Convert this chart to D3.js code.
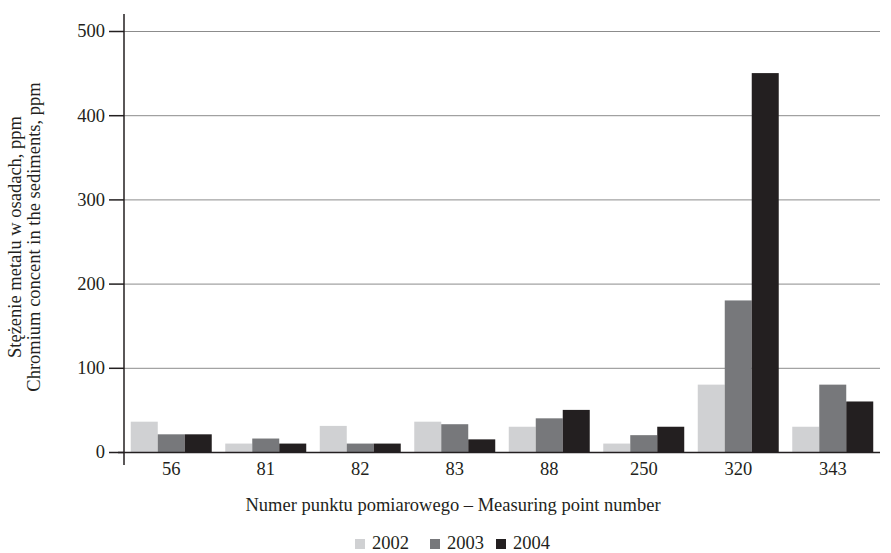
<!DOCTYPE html>
<html><head><meta charset="utf-8">
<script src="https://cdn.jsdelivr.net/npm/d3@7"></script>
<style>body{margin:0;background:#fff}svg{display:block}svg text{font-family:"Liberation Serif","Times New Roman",serif !important;fill:#231f20}</style>
</head><body>
<script>
const categories = ["56","81","82","83","88","250","320","343"];
const seriesNames = ["2002","2003","2004"];
const v2002 = [36,10,31,36,30,10,80,30];
const v2003 = [21,16,10,33,40,20,180,80];
const v2004 = [21,10,10,15,50,30,450,60];
const yTicks = [0,100,200,300,400,500];
const colors = ["#d0d1d3","#77787b","#231f20"];
const series = [v2002,v2003,v2004];

const W=891,H=553;
const FF='"Liberation Serif","Times New Roman",serif';
const svg=d3.select("body").append("svg").attr("width",W).attr("height",H);
const x0=124,x1=880,yBase=452,yTop=31;
const x=d3.scaleBand().domain(categories).range([x0,x1]).paddingInner(0.143).paddingOuter(0.0715);
const xs=d3.scaleBand().domain(seriesNames).range([0,x.bandwidth()]);
const y=d3.scaleLinear().domain([0,500]).range([yBase,yTop]);

// gridlines
svg.append("g").selectAll("line").data(yTicks.filter(t=>t>0)).join("line")
  .attr("x1",x0).attr("x2",x1).attr("y1",d=>y(d)+0.5).attr("y2",d=>y(d)+0.5)
  .attr("stroke","#8c8c8c").attr("stroke-width",1);

// bars
const g=svg.append("g");
categories.forEach((c,i)=>{
  seriesNames.forEach((s,j)=>{
    g.append("rect").attr("x",x(c)+xs(s)).attr("width",xs.bandwidth())
     .attr("y",y(series[j][i])).attr("height",yBase-y(series[j][i])).attr("fill",colors[j]);
  });
});

// y axis
const ya=svg.append("g").attr("transform",`translate(${x0},0)`)
  .call(d3.axisLeft(y).tickValues(yTicks).tickSize(15).tickPadding(4));
ya.attr("font-family",null).attr("font-size",null);
ya.select(".domain").remove();
ya.selectAll(".tick line").attr("stroke","#231f20").attr("stroke-width",1.5);
ya.selectAll(".tick text").style("font-family",FF).style("font-size","18.5px").attr("fill","#231f20");
svg.append("line").attr("x1",x0).attr("x2",x0).attr("y1",14).attr("y2",465).attr("stroke","#231f20").attr("stroke-width",1.5);

// x axis
const xa=svg.append("g").attr("transform",`translate(0,${yBase})`)
  .call(d3.axisBottom(x).tickSize(0).tickPadding(10));
xa.attr("font-family",null).attr("font-size",null);
xa.select(".domain").remove();
xa.selectAll(".tick text").style("font-family",FF).style("font-size","18.5px").attr("fill","#231f20");
svg.append("line").attr("x1",118).attr("x2",x1).attr("y1",yBase+0.5).attr("y2",yBase+0.5).attr("stroke","#231f20").attr("stroke-width",1.5);

// titles
svg.append("text").attr("x",453).attr("y",511).attr("text-anchor","middle").style("font-family",FF).style("font-size","18.5px")
  .text("Numer punktu pomiarowego – Measuring point number");
const yt=svg.append("text").attr("transform","translate(0,237) rotate(-90)").attr("text-anchor","middle").style("font-family",FF).style("font-size","18.5px");
yt.append("tspan").attr("x",0).attr("y",21).text("Stężenie metalu w osadach, ppm");
yt.append("tspan").attr("x",0).attr("y",40).text("Chromium concent in the sediments, ppm");

// legend
const lx=[355,430,496];
seriesNames.forEach((s,j)=>{
  svg.append("rect").attr("x",lx[j]).attr("y",539).attr("width",10).attr("height",10).attr("fill",colors[j]);
  svg.append("text").attr("x",lx[j]+17).attr("y",549).style("font-family",FF).style("font-size","18.5px").text(s);
});
</script>
</body></html>
